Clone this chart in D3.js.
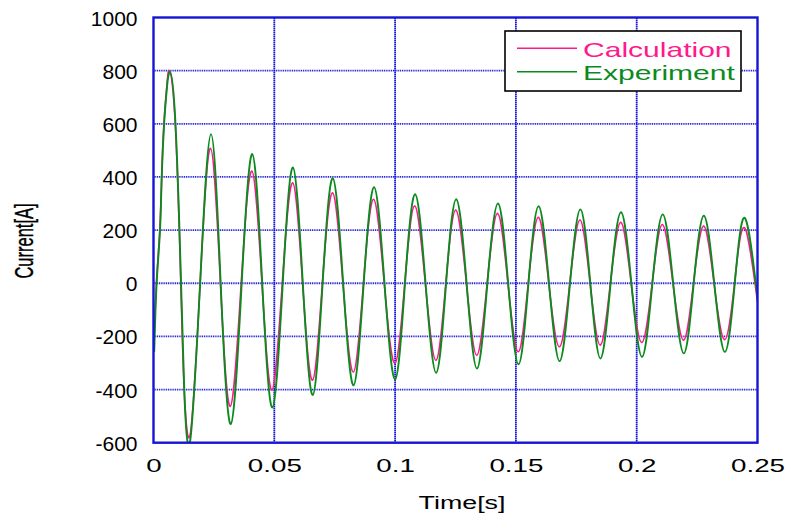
<!DOCTYPE html>
<html>
<head>
<meta charset="utf-8">
<script src="https://cdn.jsdelivr.net/npm/d3@7"></script>
<style>
  html, body { margin: 0; padding: 0; background: #fff; }
  svg { display: block; font-family: "Liberation Sans", Arial, sans-serif; }
</style>
</head>
<body>
<svg id="chart" width="790" height="517"></svg>
<script>
// ---- data ----
const timeExp = [0.0003, 0.0013, 0.0027, 0.0034, 0.0044, 0.0054, 0.0068, 0.0091, 0.0114, 0.0128, 0.0152,
  0.0193, 0.0238, 0.0278, 0.0320, 0.0365, 0.0409, 0.0450, 0.0492, 0.0535, 0.0577, 0.0618, 0.0659,
  0.0700, 0.0742, 0.0785, 0.0828, 0.0870, 0.0913, 0.0956, 0.1000, 0.1041, 0.1083, 0.1126, 0.1170,
  0.1211, 0.1253, 0.1296, 0.1339, 0.1382, 0.1426, 0.1468, 0.1511, 0.1552, 0.1594, 0.1637, 0.1681,
  0.1724, 0.1767, 0.1808, 0.1850, 0.1892, 0.1935, 0.1978, 0.2022, 0.2065, 0.2108, 0.2151, 0.2195,
  0.2236, 0.2278, 0.2321, 0.2365, 0.2406, 0.2447, 0.2500];
const currentExp = [-258, 0, 200, 400, 600, 720, 796, 600, 0, -420, -591,
  0, 561, 0, -530, 0, 486, 0, -468, 0, 436, 0, -421,
  0, 395, 0, -384, 0, 361, 0, -362, 0, 335, 0, -337,
  0, 316, 0, -321, 0, 300, 0, -305, 0, 290, 0, -293,
  0, 278, 0, -283, 0, 267, 0, -277, 0, 259, 0, -264,
  0, 254, 0, -258, 0, 246, -55];

const timeCalc = [0.0003, 0.0012, 0.0026, 0.0034, 0.0043, 0.0055, 0.0066, 0.0090, 0.0113, 0.0127, 0.0153,
  0.0193, 0.0236, 0.0277, 0.0318, 0.0363, 0.0407, 0.0449, 0.0490, 0.0533, 0.0576, 0.0617, 0.0658,
  0.0699, 0.0741, 0.0784, 0.0827, 0.0869, 0.0911, 0.0955, 0.0999, 0.1040, 0.1081, 0.1125, 0.1169,
  0.1210, 0.1251, 0.1295, 0.1338, 0.1381, 0.1424, 0.1467, 0.1510, 0.1551, 0.1593, 0.1636, 0.1680,
  0.1723, 0.1765, 0.1807, 0.1849, 0.1891, 0.1934, 0.1977, 0.2021, 0.2064, 0.2106, 0.2150, 0.2194,
  0.2235, 0.2277, 0.2320, 0.2364, 0.2405, 0.2446, 0.2500];
const currentCalc = [-200, 0, 200, 400, 600, 740, 800, 600, 0, -400, -563,
  0, 508, 0, -463, 0, 422, 0, -402, 0, 378, 0, -365,
  0, 340, 0, -334, 0, 316, 0, -302, 0, 291, 0, -290,
  0, 275, 0, -271, 0, 263, 0, -258, 0, 248, 0, -239,
  0, 238, 0, -233, 0, 229, 0, -223, 0, 221, 0, -214,
  0, 215, 0, -212, 0, 209, -70];

const xTicks = [0, 0.05, 0.1, 0.15, 0.2, 0.25];
const xTickLabels = ["0", "0.05", "0.1", "0.15", "0.2", "0.25"];
const yTicks = [-600, -400, -200, 0, 200, 400, 600, 800, 1000];
const yTickLabels = ["-600", "-400", "-200", "0", "200", "400", "600", "800", "1000"];
const seriesNames = ["Calculation", "Experiment"];
const seriesColors = ["#ff1a8c", "#0b8a1e"];

// ---- layout ----
const W = 790, H = 517;
const margin = { left: 153.5, top: 17.5, right: 32.5, bottom: 74.3 };
const pw = W - margin.left - margin.right;
const ph = H - margin.top - margin.bottom;
const blue = "#1515d6";

const svg = d3.select("#chart");
const g = svg.append("g").attr("transform", `translate(${margin.left},${margin.top})`);

const x = d3.scaleLinear().domain([0, 0.25]).range([0, pw]);
const y = d3.scaleLinear().domain([-600, 1000]).range([ph, 0]);

// grid
g.append("g").selectAll("line").data(yTicks.slice(1, -1)).join("line")
  .attr("x1", 0).attr("x2", pw)
  .attr("y1", d => y(d)).attr("y2", d => y(d))
  .attr("stroke", blue).attr("stroke-width", 1.8).attr("stroke-dasharray", "1,0.8");
g.append("g").selectAll("line").data(xTicks.slice(1, -1)).join("line")
  .attr("y1", 0).attr("y2", ph)
  .attr("x1", d => x(d)).attr("x2", d => x(d))
  .attr("stroke", blue).attr("stroke-width", 1.8).attr("stroke-dasharray", "1.5,0.5");

// series
const mk = (ts, vs) => ts.map((t, i) => [t, vs[i]]);
const line = d3.line().x(d => x(d[0])).y(d => y(d[1])).curve(d3.curveNatural);
svg.append("defs").append("clipPath").attr("id", "clp")
  .append("rect").attr("x", 0).attr("y", 0).attr("width", pw).attr("height", ph);
const plot = g.append("g").attr("clip-path", "url(#clp)");
plot.append("path").datum(mk(timeCalc, currentCalc))
  .attr("fill", "none").attr("stroke", seriesColors[0]).attr("stroke-width", 1.6).attr("d", line);
plot.append("path").datum(mk(timeExp, currentExp))
  .attr("fill", "none").attr("stroke", seriesColors[1]).attr("stroke-width", 1.9).attr("d", line);

// frame
g.append("rect").attr("x", 0).attr("y", 0).attr("width", pw).attr("height", ph)
  .attr("fill", "none").attr("stroke", blue).attr("stroke-width", 2.4);

// axes (labels via d3 axis)
const yAxis = d3.axisLeft(y).tickValues(yTicks).tickFormat((d, i) => yTickLabels[i]).tickSize(0).tickPadding(16);
const ya = g.append("g").call(yAxis);
ya.select(".domain").remove();
ya.selectAll("text").attr("font-size", 21).attr("fill", "#000")
  .attr("font-family", "Liberation Sans, Arial, sans-serif").attr("dy", "0.36em");

const xAxis = d3.axisBottom(x).tickValues(xTicks).tickFormat((d, i) => xTickLabels[i]).tickSize(0).tickPadding(0);
const xa = g.append("g").attr("transform", `translate(0,${ph})`).call(xAxis);
xa.select(".domain").remove();
xa.selectAll(".tick text")
  .attr("font-size", 18.5).attr("fill", "#000").attr("dy", null)
  .attr("font-family", "Liberation Sans, Arial, sans-serif")
  .attr("y", 0)
  .attr("transform", "translate(0,29.3) scale(1.5,1)");

// axis titles
svg.append("text").attr("x", 0).attr("y", 0)
  .attr("transform", "translate(462,509) scale(1.45,1)")
  .attr("text-anchor", "middle").attr("font-size", 18.5).text("Time[s]");
svg.append("text").attr("x", 0).attr("y", 0)
  .attr("transform", "translate(33,241) rotate(-90) scale(0.66,1)")
  .attr("text-anchor", "middle").attr("font-size", 25)
  .attr("stroke", "#000").attr("stroke-width", 0.4).text("Current[A]");

// legend
const lg = svg.append("g");
lg.append("rect").attr("x", 505).attr("y", 31).attr("width", 236).attr("height", 60)
  .attr("fill", "#fff").attr("stroke", "#000").attr("stroke-width", 1.6);
const ly = [48.3, 71.7];
const lb = [56.5, 80];
seriesNames.forEach((n, i) => {
  lg.append("line").attr("x1", 517).attr("x2", 577).attr("y1", ly[i]).attr("y2", ly[i])
    .attr("stroke", seriesColors[i]).attr("stroke-width", 1.4);
  lg.append("text").attr("x", 0).attr("y", 0)
    .attr("transform", `translate(583,${lb[i]}) scale(1.43,1)`)
    .attr("font-size", 21).attr("fill", seriesColors[i]).text(n);
});
</script>
</body>
</html>
